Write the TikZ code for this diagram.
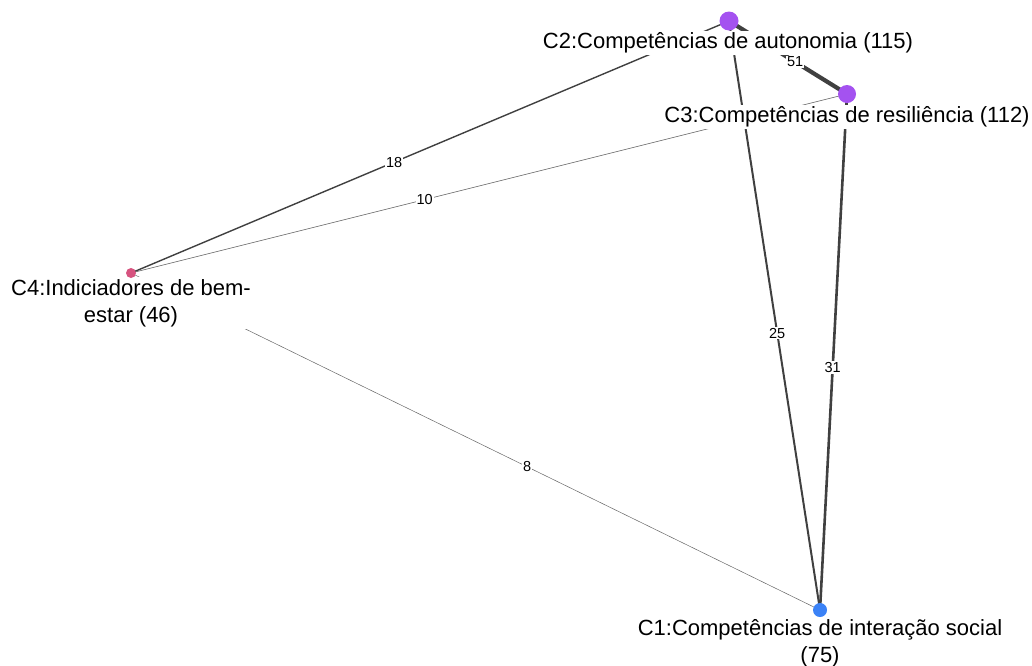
\documentclass[tikz,border=0pt]{standalone}
\usepackage{fontspec}
\setmainfont{Liberation Sans}
\definecolor{purp}{HTML}{A452F0}
\definecolor{pinkc}{HTML}{D6537F}
\definecolor{bluec}{HTML}{3B82F6}
\definecolor{edgec}{HTML}{404040}
\begin{document}
\begin{tikzpicture}[x=1pt,y=-1pt,
  lbl/.style={fill=white,inner sep=2pt,align=center,font=\fontsize{22}{27}\selectfont},
  elbl/.style={fill=white,inner sep=1pt,font=\fontsize{14.5}{16}\selectfont},
  dot/.style={circle,inner sep=0pt,minimum size=#1},
  edg/.style={draw=edgec,line width=#1}]
\useasboundingbox (0,0) rectangle (1032,665);
% node centres
\coordinate (c2) at (729,21);
\coordinate (c3) at (847,94);
\coordinate (c4) at (131,273);
\coordinate (c1) at (820,610);
% edges
\draw[edg=1.4pt] (c4) -- node[elbl,pos=0.44] {18} (c2);
\draw[edg=0.6pt,draw=edgec!80] (c4) -- node[elbl,pos=0.41] {10} (c3);
\draw[edg=0.5pt,draw=edgec!80] (c4) -- node[elbl,pos=0.575] {8} (c1);
\draw[edg=2pt] (c2) -- node[elbl,pos=0.53] {25} (c1);
\draw[edg=2.6pt] (c3) -- node[elbl,pos=0.53] {31} (c1);
\draw[edg=4.2pt] (c2) -- node[elbl,pos=0.56] {51} (c3);
% labels
\node[lbl] (l2) at (728,43) {C2:Competências de autonomia (115)};
\node[lbl] (l3) at (847,117) {C3:Competências de resiliência (112)};
\node[lbl] (l4) at (131,303) {C4:Indiciadores de bem-\\estar (46)};
\node[lbl] (l1) at (820,643) {C1:Competências de interação social\\(75)};
% dots
\node[dot=19pt,fill=purp] (d2) at (c2) {};
\node[dot=18pt,fill=purp] (d3) at (c3) {};
\node[dot=10pt,fill=pinkc] (d4) at (c4) {};
\node[dot=14pt,fill=bluec] (d1) at (c1) {};
\end{tikzpicture}
\end{document}
